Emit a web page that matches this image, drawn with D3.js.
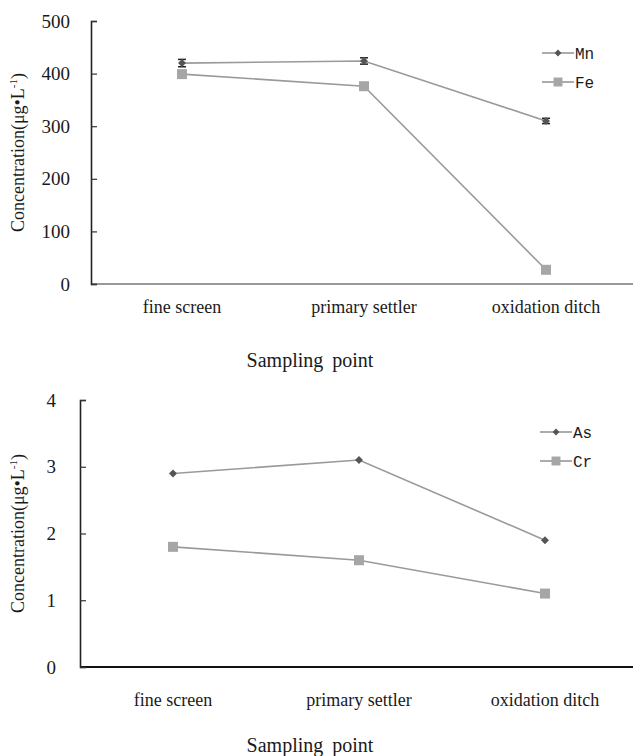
<!DOCTYPE html>
<html>
<head>
<meta charset="utf-8">
<script src="https://cdn.jsdelivr.net/npm/d3@7"></script>
<style>
  body { margin: 0; background: #fff; }
  svg { display: block; }
  text { font-family: "Liberation Serif", "Times New Roman", serif; fill: #1a1a1a; }
  .legend text { font-family: "Liberation Mono", "DejaVu Sans Mono", monospace; }
</style>
</head>
<body>
<svg id="chart" width="633" height="756"></svg>
<script>
// sampling points (x categories)
var points = ['fine screen', 'primary settler', 'oxidation ditch'];

// top panel: Mn, Fe (µg/L)
var mnValues = [420, 424, 310],
    mnErrors = [7, 6, 5],
    feValues = [399, 376, 27],
    feErrors = [6, 0, 0];

// bottom panel: As, Cr (µg/L)
var asValues = [2.9, 3.1, 1.9],
    crValues = [1.8, 1.6, 1.1];

var topTicks = [0, 100, 200, 300, 400, 500],
    bottomTicks = [0, 1, 2, 3, 4];

var svg = d3.select('#chart');

function drawPanel(cfg) {
    var g = svg.append('g');

    var x = d3.scaleBand()
        .domain(points)
        .range([cfg.left, cfg.right]);

    var y = d3.scaleLinear()
        .domain([0, d3.max(cfg.ticks)])
        .range([cfg.bottom, cfg.top]);

    var cx = function(d, i) { return x(points[i]) + x.bandwidth() / 2; };

    // x axis line
    g.append('line')
        .attr('x1', cfg.left).attr('x2', 633)
        .attr('y1', cfg.bottom).attr('y2', cfg.bottom)
        .attr('stroke', cfg.xAxisColor).attr('stroke-width', 2);

    // y axis
    var yAxis = d3.axisRight(y)
        .tickValues(cfg.ticks)
        .tickSize(6)
        .tickFormat('');
    var ya = g.append('g')
        .attr('transform', 'translate(' + cfg.left + ',0)')
        .call(yAxis);
    ya.select('.domain').attr('stroke', '#222').attr('stroke-width', 1.6);
    ya.selectAll('.tick line').attr('stroke', '#333').attr('stroke-width', 1.2);

    g.selectAll('.ylab')
        .data(cfg.ticks)
        .enter().append('text')
        .attr('x', cfg.left - cfg.labelGap)
        .attr('y', function(d) { return y(d); })
        .attr('dy', '0.35em')
        .attr('text-anchor', 'end')
        .style('font-size', '19px')
        .text(function(d) { return d; });

    // y title
    g.append('text')
        .attr('transform', 'translate(' + cfg.titleX + ',' + (cfg.top + cfg.bottom) / 2 + ') rotate(-90)')
        .attr('text-anchor', 'middle')
        .style('font-size', '18px')
        .html('Concentration(μg•L<tspan dy="-7" font-size="11">-1</tspan><tspan dy="7">)</tspan>');

    // x tick labels
    g.selectAll('.xlab')
        .data(points)
        .enter().append('text')
        .attr('x', function(d) { return x(d) + x.bandwidth() / 2; })
        .attr('y', cfg.bottom + cfg.xLabelDy)
        .attr('text-anchor', 'middle')
        .style('font-size', '18px')
        .text(function(d) { return d; });

    // x title
    g.append('text')
        .attr('x', cfg.xTitleX)
        .attr('y', cfg.xTitleY)
        .attr('text-anchor', 'middle')
        .style('font-size', '20px')
        .style('word-spacing', '4px')
        .text('Sampling point');

    var line = d3.line()
        .x(cx)
        .y(function(d) { return y(d); });

    cfg.series.forEach(function(s) {
        g.append('path')
            .datum(s.values)
            .attr('d', line)
            .attr('fill', 'none')
            .attr('stroke', '#9a9a9a')
            .attr('stroke-width', 1.6);
    });

    cfg.series.forEach(function(s) {
        // error bars
        if (s.errors) {
            s.values.forEach(function(v, i) {
                if (!s.errors[i]) return;
                var px = cx(v, i), y1 = y(v + s.errors[i]), y2 = y(v - s.errors[i]);
                g.append('line').attr('x1', px).attr('x2', px).attr('y1', y1).attr('y2', y2)
                    .attr('stroke', '#222').attr('stroke-width', 1.5);
                [y1, y2].forEach(function(yy) {
                    g.append('line').attr('x1', px - 4).attr('x2', px + 4).attr('y1', yy).attr('y2', yy)
                        .attr('stroke', '#222').attr('stroke-width', 1.5);
                });
            });
        }
        g.selectAll(null)
            .data(s.values)
            .enter().append('path')
            .attr('transform', function(d, i) { return 'translate(' + cx(d, i) + ',' + y(d) + ')'; })
            .attr('d', s.shape === 'diamond'
                ? d3.symbol(d3.symbolDiamond2, 40)()
                : d3.symbol(d3.symbolSquare, 100)())
            .attr('fill', s.shape === 'diamond' ? '#555' : '#a6a6a6');
    });

    // legend
    var leg = g.append('g').attr('class', 'legend');
    cfg.series.forEach(function(s, i) {
        var ly = cfg.legendY + i * 29;
        leg.append('line')
            .attr('x1', cfg.legendX).attr('x2', cfg.legendX + 32)
            .attr('y1', ly).attr('y2', ly)
            .attr('stroke', '#888').attr('stroke-width', 1.4);
        leg.append('path')
            .attr('transform', 'translate(' + (cfg.legendX + 16) + ',' + ly + ')')
            .attr('d', s.shape === 'diamond'
                ? d3.symbol(d3.symbolDiamond2, 30)()
                : d3.symbol(d3.symbolSquare, 80)())
            .attr('fill', s.shape === 'diamond' ? '#555' : '#a6a6a6');
        leg.append('text')
            .attr('x', cfg.legendX + 33)
            .attr('y', ly)
            .attr('dy', '0.35em')
            .style('font-size', '16px')
            .text(s.name);
    });
}

drawPanel({
    left: 91, right: 637, top: 21, bottom: 284,
    ticks: topTicks, labelGap: 21, titleX: 24,
    xAxisColor: '#999', xLabelDy: 29,
    xTitleX: 310, xTitleY: 367,
    legendX: 542, legendY: 53,
    series: [
        { name: 'Mn', values: mnValues, errors: mnErrors, shape: 'diamond' },
        { name: 'Fe', values: feValues, errors: feErrors, shape: 'square' }
    ]
});

drawPanel({
    left: 80, right: 638, top: 400, bottom: 667,
    ticks: bottomTicks, labelGap: 24, titleX: 24,
    xAxisColor: '#111', xLabelDy: 39,
    xTitleX: 310, xTitleY: 752,
    legendX: 540, legendY: 432,
    series: [
        { name: 'As', values: asValues, shape: 'diamond' },
        { name: 'Cr', values: crValues, shape: 'square' }
    ]
});
</script>
</body>
</html>
